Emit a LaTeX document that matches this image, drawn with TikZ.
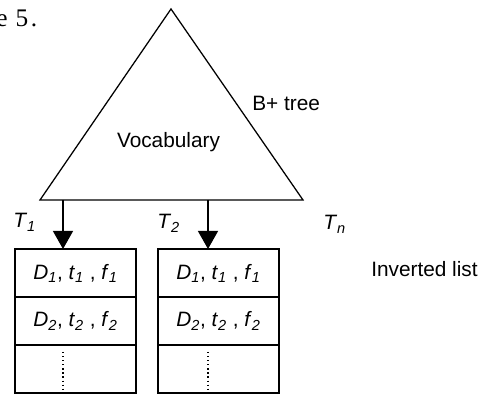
\documentclass[tikz,border=0pt]{standalone}
\usepackage{fontspec}
\setmainfont{Liberation Sans}
\newfontfamily\pagefont{Liberation Serif}
\usetikzlibrary{arrows.meta,calc,positioning}
\newcommand{\ix}[2]{\textit{#1}\textsubscript{\textit{#2}}}
\tikzset{
  cell/.style={
    draw,
    line width=0.9pt,
    minimum width=3.025cm,
    minimum height=1.2cm,
    inner sep=0pt,
    outer sep=0pt,
    font=\fontsize{14.8}{17}\selectfont
  },
  edge/.style={
    draw,
    line width=0.9pt,
    line join=miter
  },
  pointer/.style={
    draw,
    line width=0.9pt,
    -{Triangle[length=4.5mm,width=5mm]}
  },
  gap/.style={
    draw,
    line width=0.9pt,
    dotted
  },
  caption/.style={font=\fontsize{14.8}{17}\selectfont, inner sep=0pt}
}

\begin{document}
\begin{tikzpicture}
  \path[use as bounding box] (0,0) rectangle (12,9.9);

  \node[inner sep=0pt, anchor=base west, font=\pagefont\fontsize{18}{20}\selectfont]
    (page) at (-0.1,9.225) {e\hspace{0.2cm}5\hspace{0.07cm}.};

  % vocabulary tree
  \coordinate (apex) at (4.275,9.675);
  \coordinate (left) at (1.0,4.9);
  \coordinate (right) at (7.575,4.9);
  \draw[edge] (apex) -- (left) -- (right) -- cycle;
  \node[caption, anchor=base] (vocab) at (4.2125,6.2) {Vocabulary};
  \node[caption, anchor=base west] (btree) at (6.3,7.13) {B+ tree};

  \coordinate (t1) at (1.575,4.9);
  \coordinate (t2) at (5.2,4.9);
  \node[caption, anchor=base west] (lab1) at (0.325,4.2) {\ix{T}{1}};
  \node[caption, anchor=base west] (lab2) at (3.925,4.175) {\ix{T}{2}};
  \node[caption, anchor=base west] (labn) at (8.075,4.15) {\ix{T}{n}};

  % inverted lists
  \node[cell, anchor=north west] (l1) at (0.375,3.675)
    {\ix{D}{1}, \ix{t}{1} , \ix{f}{1}};
  \node[cell, below=0pt of l1] (l2) {\ix{D}{2}, \ix{t}{2} , \ix{f}{2}};
  \node[cell, below=0pt of l2] (l3) {};

  \node[cell, anchor=north west] (r1) at (3.95,3.675)
    {\ix{D}{1}, \ix{t}{1} , \ix{f}{1}};
  \node[cell, below=0pt of r1] (r2) {\ix{D}{2}, \ix{t}{2} , \ix{f}{2}};
  \node[cell, below=0pt of r2] (r3) {};

  \node[caption, anchor=base west] (inv) at (9.275,2.975) {Inverted list};

  \draw[pointer] (t1) -- (t1 |- l1.north);
  \draw[pointer] (t2) -- (t2 |- r1.north);

  \draw[gap] ($(t1 |- l3.north)+(0,-0.175)$) -- ($(t1 |- l3.south)+(0,-0.05)$);
  \draw[gap] ($(t2 |- r3.north)+(0,-0.175)$) -- ($(t2 |- r3.south)+(0,-0.05)$);
\end{tikzpicture}
\end{document}
